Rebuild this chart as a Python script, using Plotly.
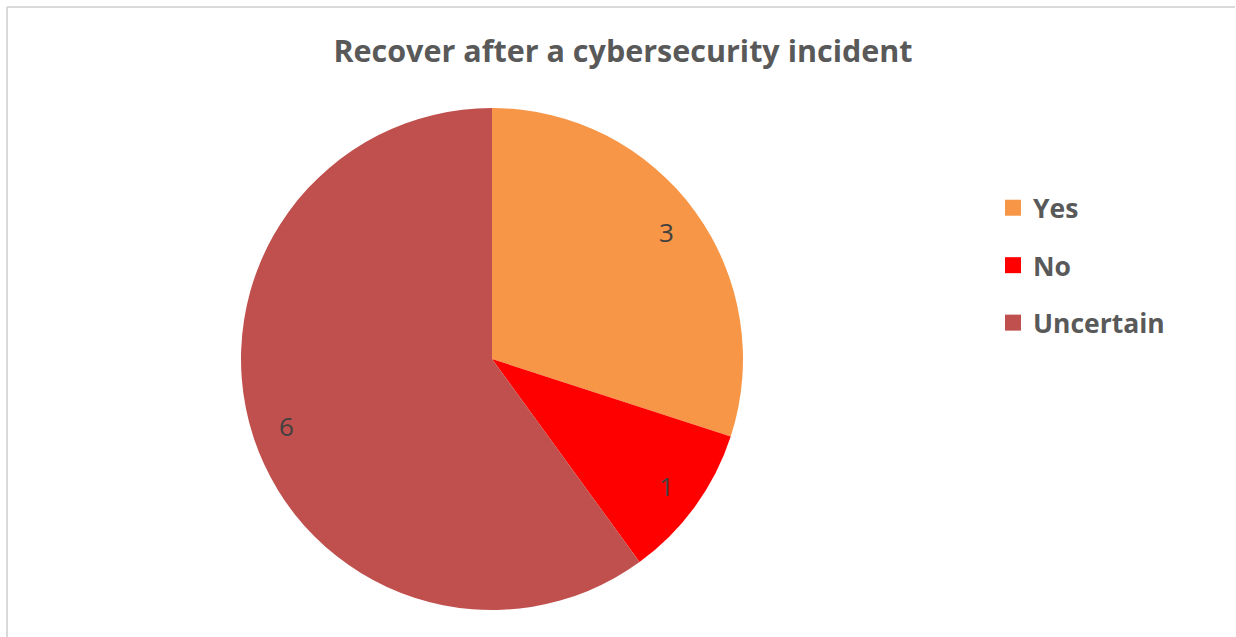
import math
import plotly.graph_objects as go

categories = ["Yes", "No", "Uncertain"]
values = [3, 1, 6]
colors = ["#F79646", "#FF0000", "#C0504D"]
title_text = "Recover after a cybersecurity incident"

W, H = 1236, 637
FONT = "Open Sans"
CX, CY, R = 492, 359, 251  # pie centre / radius in pixels
LABEL_FRAC = 0.86

fig = go.Figure()
fig.add_trace(go.Pie(
    labels=categories, values=values, sort=False, direction="clockwise",
    rotation=0, marker=dict(colors=colors, line=dict(color="white", width=0)),
    textinfo="none",
    domain=dict(x=[(CX - R) / W, (CX + R) / W], y=[1 - (CY + R) / H, 1 - (CY - R) / H]),
    showlegend=False, hoverinfo="label+value",
))

# value labels placed along each slice's bisector
total = sum(values)
cum = 0
annotations = []
for v in values:
    mid = (cum + v / 2) / total * 2 * math.pi
    cum += v
    px = CX + LABEL_FRAC * R * math.sin(mid)
    py = CY - LABEL_FRAC * R * math.cos(mid)
    annotations.append(dict(
        x=px / W, y=1 - py / H, xref="paper", yref="paper", text=str(v),
        showarrow=False, xanchor="center", yanchor="middle",
        font=dict(family=FONT, size=26, color="#404040"),
    ))

for c, col in zip(categories, colors):
    fig.add_trace(go.Scatter(
        x=[None], y=[None], mode="markers", name=c, legendgroup=c,
        marker=dict(symbol="square", size=18, color=col),
        showlegend=True,
    ))

fig.update_layout(
    width=W, height=H, margin=dict(l=0, r=0, t=0, b=0),
    paper_bgcolor="white", plot_bgcolor="white",
    title=dict(text="<b>" + title_text + "</b>", x=623 / W, xanchor="center",
               y=1 - 51 / H, yanchor="middle",
               font=dict(family=FONT, size=30.5, color="#595959")),
    xaxis=dict(visible=False), yaxis=dict(visible=False),
    legend=dict(x=993 / W, y=1 - 184 / H, xanchor="left", yanchor="top",
                font=dict(family=FONT, size=26.5, color="#595959", weight="bold"),
                tracegroupgap=20, itemwidth=30, bgcolor="rgba(0,0,0,0)"),
    annotations=annotations,
    shapes=[
        dict(type="line", xref="paper", yref="paper", x0=7 / W, x1=1235 / W,
             y0=1 - 7 / H, y1=1 - 7 / H, line=dict(color="#D9D9D9", width=2)),
        dict(type="line", xref="paper", yref="paper", x0=7 / W, x1=7 / W,
             y0=1 - 7 / H, y1=0, line=dict(color="#D9D9D9", width=2)),
    ],
)

fig.write_html("out.html", config={"displayModeBar": False},
               post_script="document.body.style.margin='0px';")
